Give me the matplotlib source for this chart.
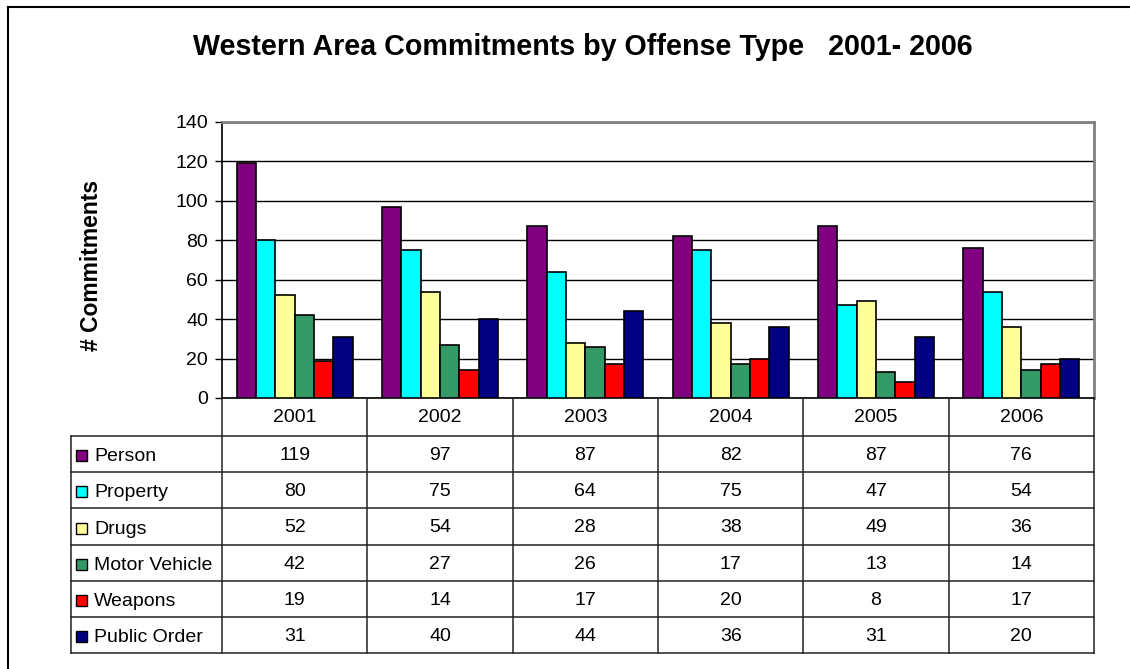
import matplotlib.pyplot as plt
from matplotlib.lines import Line2D
from matplotlib.patches import Rectangle
from matplotlib.transforms import blended_transform_factory

plt.rcParams['font.family'] = ['Liberation Sans', 'DejaVu Sans']

years = ["2001", "2002", "2003", "2004", "2005", "2006"]
offenses = ["Person", "Property", "Drugs", "Motor Vehicle", "Weapons", "Public Order"]
person = [119, 97, 87, 82, 87, 76]
prop = [80, 75, 64, 75, 47, 54]
drugs = [52, 54, 28, 38, 49, 36]
motor_vehicle = [42, 27, 26, 17, 13, 14]
weapons = [19, 14, 17, 20, 8, 17]
public_order = [31, 40, 44, 36, 31, 20]
colors = ["#800080", "#00FFFF", "#FFFF99", "#339966", "#FF0000", "#000080"]

series = [person, prop, drugs, motor_vehicle, weapons, public_order]

W, H = 1130, 669
fig = plt.figure(figsize=(W / 100, H / 100), dpi=100)


def fx(x):
    return x / W


def fy(y):
    return 1 - y / H


# plot area in pixel coordinates
left, right, top, bottom = 222, 1094, 122, 398
ax = fig.add_axes([fx(left), fy(bottom), fx(right) - fx(left), fy(top) - fy(bottom)])

n = len(series)
width = 1 / (n + 1.5)
for i, (vals, c) in enumerate(zip(series, colors)):
    xs = [k + (i - (n - 1) / 2) * width for k in range(len(years))]
    ax.bar(xs, vals, width=width, color=c, edgecolor="black", linewidth=1.2, zorder=3)

ax.set_xlim(-0.5, len(years) - 0.5)
ax.set_ylim(0, 140)
ax.set_yticks(range(0, 141, 20))
ax.tick_params(axis="y", labelsize=14, length=5, width=1, direction="out", pad=5)
ax.set_xticks([])
ax.yaxis.grid(True, color="black", linewidth=1, zorder=0)
for side in ["top", "right"]:
    ax.spines[side].set_color("#808080")
    ax.spines[side].set_linewidth(2)
ax.spines["left"].set_linewidth(1.2)
ax.spines["bottom"].set_linewidth(1.2)

fig.text(fx(583), fy(47), "Western Area Commitments by Offense Type   2001- 2006",
         ha="center", va="center", fontsize=20.6, fontweight="bold")
fig.text(fx(92), fy(265), "# Commitments", ha="center", va="center",
         rotation=90, fontsize=16.5, fontweight="bold")

# data table under the axes; columns follow the category scale
tr = blended_transform_factory(ax.transData, fig.transFigure)
row_h = 36.2
header_bottom = 436
table_bottom = header_bottom + row_h * len(offenses)
line_kw = dict(color="#222222", linewidth=1.1)

for k, yr in enumerate(years):
    fig.text(k, fy((bottom + header_bottom) / 2 + 1), yr, transform=tr,
             ha="center", va="center", fontsize=14)
for k in range(len(years) + 1):
    x0 = k - 0.5
    fig.add_artist(Line2D([x0, x0], [fy(bottom), fy(table_bottom)], transform=tr, **line_kw))

for r in range(len(offenses) + 1):
    yy = fy(header_bottom + r * row_h)
    fig.add_artist(Line2D([fx(71), fx(right)], [yy, yy], **line_kw))
fig.add_artist(Line2D([fx(71), fx(71)], [fy(header_bottom), fy(table_bottom)], **line_kw))

for r, (name, vals, c) in enumerate(zip(offenses, series, colors)):
    yc = header_bottom + (r + 0.5) * row_h + 2.5
    fig.add_artist(Rectangle((fx(76), fy(yc + 4.5)), fx(11), 11 / H,
                             facecolor=c, edgecolor="black", linewidth=1))
    fig.text(fx(94), fy(yc), name, ha="left", va="center", fontsize=14)
    for k, v in enumerate(vals):
        fig.text(k, fy(yc - 1), str(v), transform=tr, ha="center", va="center", fontsize=14)

# chart frame
fig.add_artist(Line2D([fx(8), 1], [fy(7), fy(7)], color="black", linewidth=1.5))
fig.add_artist(Line2D([fx(8), fx(8)], [fy(7), 0], color="black", linewidth=1.5))

fig.savefig("out.png", dpi=100)
